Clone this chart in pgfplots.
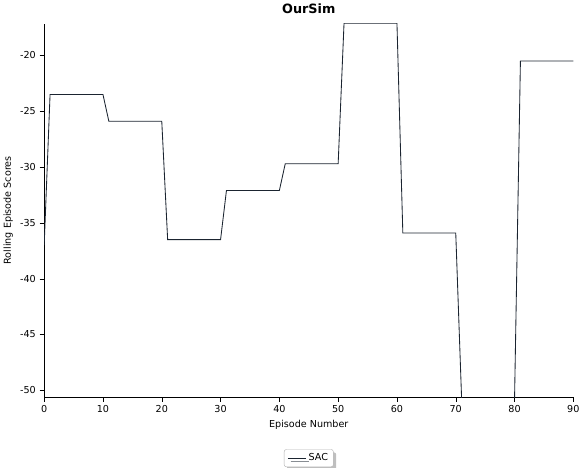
\documentclass[border=0pt]{standalone}
\usepackage{pgfplots}
\pgfplotsset{compat=1.18}
\usetikzlibrary{shadows}
\usepackage{fontspec}
\setmainfont{DejaVu Sans}
\definecolor{ln}{HTML}{1B2430}
\begin{document}
\begin{tikzpicture}
\begin{axis}[
  width=496pt, height=350pt, scale only axis,
  xmin=0, xmax=90, ymin=-50.6, ymax=-17.15,
  xtick={0,10,...,90}, ytick={-50,-45,...,-20},
  axis x line*=bottom, axis y line*=left,
  x axis line style={-}, y axis line style={-},
  tick align=outside, tick style={black},
  xlabel={Episode Number}, ylabel={Rolling Episode Scores},
  title={\bfseries\large OurSim},
  /pgf/number format/assume math mode=true,
  ticklabel style={font=\small}, label style={font=\small},
  legend style={at={(0.5,-0.14)}, anchor=north, font=\small, draw=gray!60, fill=white, drop shadow, rounded corners=2pt},
  clip=true,
]
\addplot[ln, thick] coordinates {
(0,-37) (1,-23.5) (10,-23.5) (11,-25.9) (20,-25.9) (21,-36.5) (30,-36.5)
(31,-32.1) (40,-32.1) (41,-29.7) (50,-29.7) (51,-17.1) (60,-17.1)
(61,-35.9) (70,-35.9) (71,-50.8) (80,-50.8) (81,-20.5) (90,-20.5)};
\addlegendentry{SAC}
\end{axis}
\end{tikzpicture}
\end{document}
